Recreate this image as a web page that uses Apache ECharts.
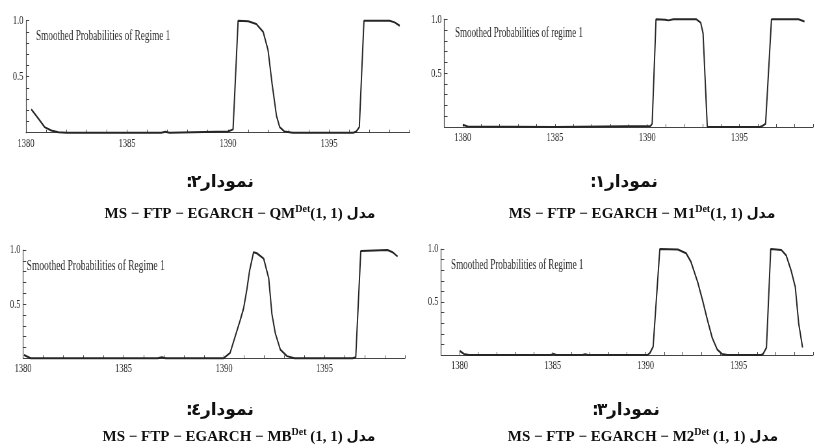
<!DOCTYPE html>
<html><head><meta charset="utf-8">
<script src="https://cdn.jsdelivr.net/npm/echarts@6/dist/echarts.min.js"></script>
<style>
html,body{margin:0;padding:0;background:#fff;}
#wrap{position:relative;width:815px;height:448px;overflow:hidden;background:#fff;}
#cap{position:absolute;left:0;top:0;width:815px;height:448px;}
#pan{position:absolute;left:0;top:0;width:1254px;height:448px;transform:scaleX(0.65);transform-origin:0 0;}
</style></head><body>
<div id="wrap"><div id="cap"></div><div id="pan"></div></div>
<script>
// ---- Data (years in Persian calendar, smoothed probabilities of regime 1) ----
// Chart 1: MS-FTP-EGARCH-M1 (top right)
const years1 = [1380.0, 1380.27, 1385.0, 1390.18, 1390.27, 1390.48, 1390.98, 1391.15, 1391.42, 1392.67, 1392.9, 1393.03, 1393.26, 1396.1, 1396.25, 1396.42, 1396.74, 1398.2, 1398.53];
const prob1  = [0.02, 0.005, 0.0, 0.01, 0.03, 1.0, 0.995, 0.99, 1.0, 1.0, 0.97, 0.87, 0.0, 0.0, 0.01, 0.03, 1.0, 1.0, 0.98];
// Chart 2: MS-FTP-EGARCH-QM (top left)
const years2 = [1380.26, 1380.6, 1380.92, 1381.25, 1381.6, 1382.0, 1386.7, 1386.9, 1387.1, 1390.0, 1390.25, 1390.5, 1391.0, 1391.4, 1391.74, 1391.98, 1392.18, 1392.4, 1392.56, 1392.8, 1393.2, 1396.2, 1396.35, 1396.5, 1396.73, 1398.0, 1398.25, 1398.5];
const prob2  = [0.21, 0.13, 0.05, 0.02, 0.005, 0.0, 0.0, 0.008, 0.0, 0.01, 0.03, 1.0, 0.995, 0.97, 0.9, 0.74, 0.44, 0.15, 0.05, 0.01, 0.0, 0.0, 0.01, 0.05, 1.0, 1.0, 0.985, 0.955];
// Chart 3: MS-FTP-EGARCH-M2 (bottom right)
const years3 = [1380.0, 1380.23, 1380.5, 1384.9, 1385.05, 1385.2, 1386.6, 1386.75, 1386.9, 1390.1, 1390.23, 1390.4, 1390.76, 1391.73, 1392.17, 1392.43, 1392.79, 1393.05, 1393.32, 1393.58, 1393.85, 1394.1, 1394.4, 1396.2, 1396.31, 1396.49, 1396.72, 1397.02, 1397.29, 1397.55, 1397.81, 1398.04, 1398.22, 1398.43];
const prob3  = [0.04, 0.01, 0.0, 0.0, 0.01, 0.0, 0.0, 0.008, 0.0, 0.0, 0.02, 0.08, 1.0, 0.995, 0.96, 0.88, 0.69, 0.52, 0.33, 0.16, 0.05, 0.01, 0.0, 0.0, 0.01, 0.07, 1.0, 0.995, 0.99, 0.94, 0.8, 0.64, 0.3, 0.07];
// Chart 4: MS-FTP-EGARCH-MB (bottom left)
const years4 = [1380.05, 1380.38, 1386.7, 1386.9, 1387.1, 1389.97, 1390.3, 1390.55, 1390.8, 1390.97, 1391.13, 1391.27, 1391.47, 1391.63, 1391.97, 1392.22, 1392.38, 1392.55, 1392.8, 1393.13, 1393.5, 1396.4, 1396.55, 1396.8, 1398.13, 1398.38, 1398.63];
const prob4  = [0.03, 0.0, 0.0, 0.01, 0.0, 0.0, 0.05, 0.2, 0.35, 0.46, 0.63, 0.81, 0.98, 0.97, 0.92, 0.74, 0.41, 0.23, 0.08, 0.02, 0.0, 0.0, 0.01, 0.99, 1.0, 0.98, 0.94];

const panelTitle1 = 'Smoothed Probabilities of regime 1';
const panelTitle  = 'Smoothed Probabilities of Regime 1';
const yTickLabels = ['0.5', '1.0'];

// ---- Layout ----
const S = 0.65;              // horizontal squeeze of the plot images
const X = v => v / S;

const panels = [
  // order: TL(2), TR(1), BL(4), BR(3)
  {years: years2, prob: prob2, title: panelTitle, tsize: 14.2, tx: 36, ty: 29,
   left: 26, width: 383.8, top: 20.7, height: 112, min: 1380, max: 1399},
  {years: years1, prob: prob1, title: panelTitle1, tsize: 13.85, tx: 455, ty: 26.5,
   left: 444.3, width: 373.4, top: 19.3, height: 107.7, min: 1379, max: 1399},
  {years: years4, prob: prob4, title: panelTitle, tsize: 14.6, tx: 26.7, ty: 258.5,
   left: 23, width: 382, top: 250, height: 108.3, min: 1380, max: 1399},
  {years: years3, prob: prob3, title: panelTitle, tsize: 14.0, tx: 451, ty: 258.5,
   left: 441, width: 378, top: 249, height: 106, min: 1379, max: 1399}
];

const axisCol = '#444';
const lblStyle = {fontFamily: 'Liberation Serif', fontSize: 13, color: '#2a2a2a'};

const grid = [], xAxis = [], yAxis = [], series = [], titles = [];
panels.forEach((p, i) => {
  grid.push({left: X(p.left), width: X(p.width), top: p.top, height: p.height, containLabel: false});
  xAxis.push({
    type: 'value', gridIndex: i, min: p.min, max: p.max, interval: 1,
    axisLine: {show: true, onZero: false, lineStyle: {color: axisCol, width: 1}},
    axisTick: {show: true, inside: true, length: 3, lineStyle: {color: axisCol}},
    axisLabel: Object.assign({margin: 4, formatter: v => (Math.round(v) % 5 === 0 ? String(Math.round(v)) : '')}, lblStyle),
    splitLine: {show: false}
  });
  yAxis.push({
    type: 'value', gridIndex: i, min: 0, max: 1, interval: 0.1,
    axisLine: {show: true, onZero: false, lineStyle: {color: axisCol, width: 1.2}},
    axisTick: {show: true, inside: true, length: 5, lineStyle: {color: axisCol}},
    axisLabel: Object.assign({margin: 4, formatter: v => {
      if (Math.abs(v - 0.5) < 1e-6) return yTickLabels[0];
      if (Math.abs(v - 1) < 1e-6) return yTickLabels[1];
      return '';
    }}, lblStyle),
    splitLine: {show: false}
  });
  series.push({
    type: 'line', xAxisIndex: i, yAxisIndex: i,
    data: p.years.map((y, k) => [y, p.prob[k]]),
    showSymbol: false, symbol: 'none',
    lineStyle: {color: '#262626', width: 2},
    clip: false, animation: false
  });
  titles.push({
    text: p.title, left: X(p.tx), top: p.ty, padding: 0,
    textStyle: {fontFamily: 'Liberation Serif', fontWeight: 'normal', fontSize: p.tsize, color: '#2a2a2a'}
  });
});

const pan = echarts.init(document.getElementById('pan'), null, {renderer: 'canvas'});
pan.setOption({
  backgroundColor: 'transparent', animation: false,
  title: titles, grid, xAxis, yAxis, series
});

// ---- Captions ----
const chartWord = 'نمودار';
const chartNums = ['٢', '١', '٤', '٣'];
const models = [
  {name: 'QM', gap: ''}, {name: 'M1', gap: ''}, {name: 'MB', gap: ' '}, {name: 'M2', gap: ' '}
];
// l1: left end of first caption line; y1/y2 line centres; c2 centre of second line
const capPos = [
  {l1: 186, y1: 183, c2: 240, y2: 214},
  {l1: 590, y1: 183, c2: 642, y2: 214},
  {l1: 186, y1: 411, c2: 239, y2: 437},
  {l1: 592, y1: 411, c2: 643, y2: 437}
];
const pStyle = {fontFamily: 'DejaVu Sans', fontWeight: 'bold', fontSize: 17, color: '#111'};
const rich = {
  f: {fontFamily: 'Liberation Serif', fontWeight: 'bold', fontSize: 15, color: '#111', lineHeight: 20},
  s: {fontFamily: 'Liberation Serif', fontWeight: 'bold', fontSize: 10, color: '#111', lineHeight: 10, verticalAlign: 'top'},
  a: {fontFamily: 'DejaVu Sans', fontWeight: 'bold', fontSize: 14, color: '#111', lineHeight: 20}
};
const capTitles = [];
capPos.forEach((c, i) => {
  // visual order (right-to-left reading): colon, digit, word
  capTitles.push({
    text: ':', left: c.l1, top: c.y1, padding: 0,
    textAlign: 'left', textVerticalAlign: 'middle', textStyle: pStyle
  });
  capTitles.push({
    text: chartNums[i], left: c.l1 + 5, top: c.y1, padding: 0,
    textAlign: 'left', textVerticalAlign: 'middle', textStyle: pStyle
  });
  capTitles.push({
    text: chartWord, left: c.l1 + 15, top: c.y1, padding: 0,
    textAlign: 'left', textVerticalAlign: 'middle', textStyle: pStyle
  });
  capTitles.push({
    text: '{f|MS − FTP − EGARCH − ' + models[i].name + '}{s|Det}{f|' + models[i].gap + '(1, 1) }{a|مدل}',
    left: c.c2, top: c.y2, padding: 0,
    textAlign: 'center', textVerticalAlign: 'middle', textStyle: {rich}
  });
});
const cap = echarts.init(document.getElementById('cap'), null, {renderer: 'canvas'});
cap.setOption({backgroundColor: '#fff', animation: false, title: capTitles});
</script>
</body></html>
